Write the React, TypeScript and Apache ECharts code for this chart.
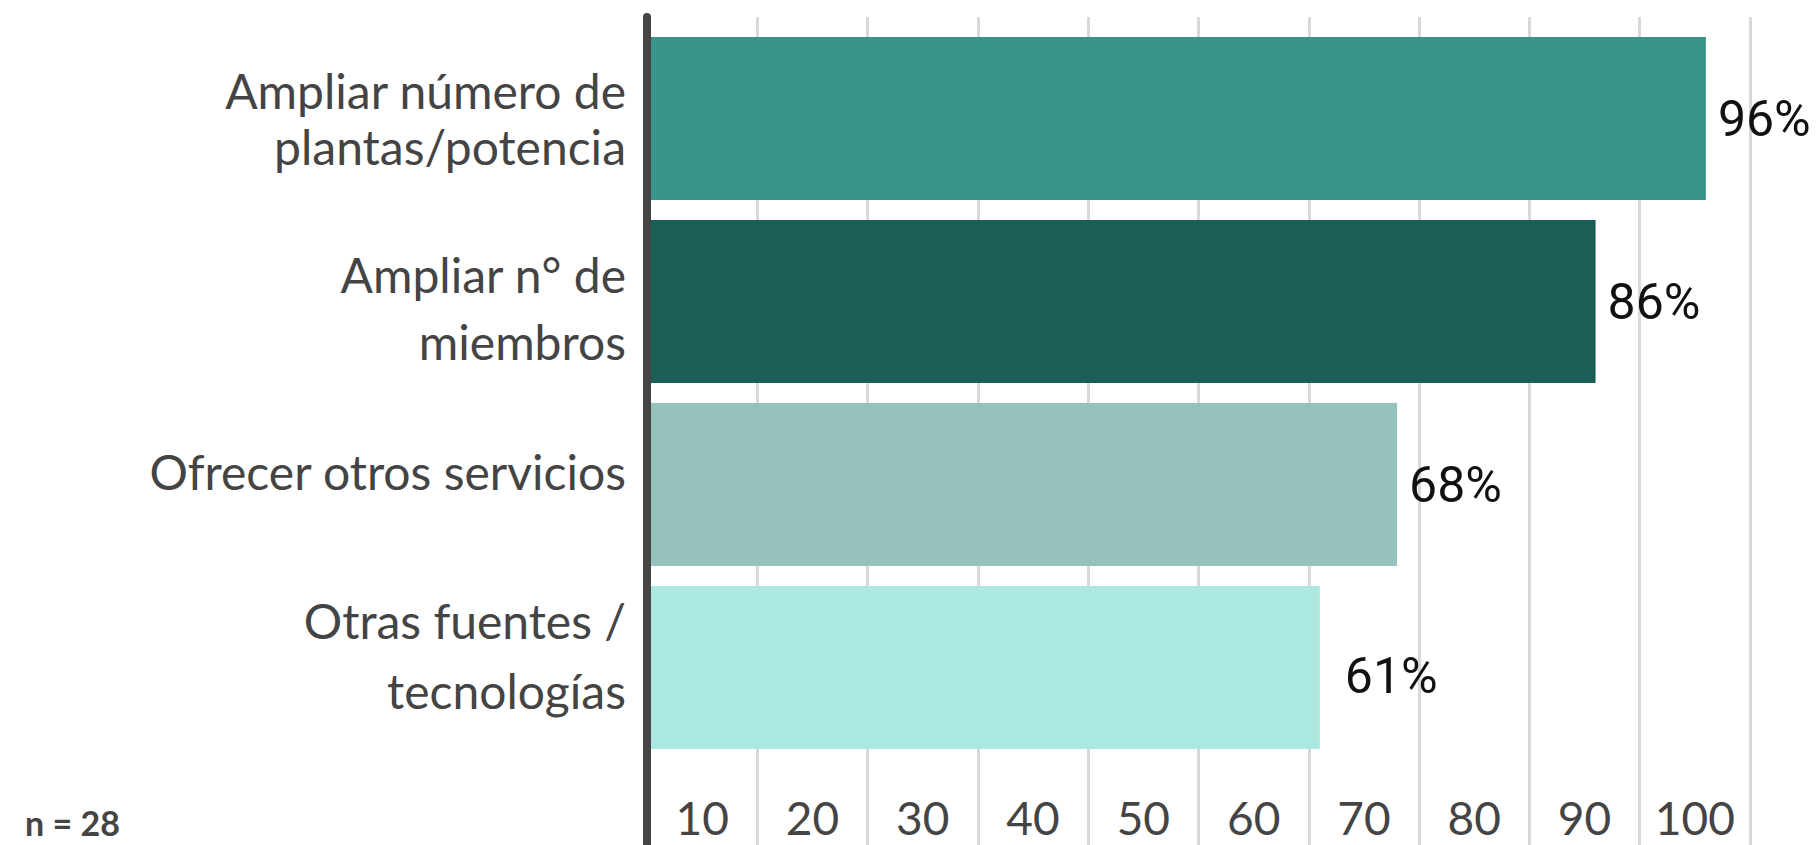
import React, { useEffect, useRef } from "react";
import * as echarts from "echarts";

const categories = [
  "Ampliar número de\nplantas/potencia",
  "Ampliar n° de\nmiembros",
  "Ofrecer otros servicios",
  "Otras fuentes /\ntecnologías",
];
const values = [96, 86, 68, 61];
const barColors = ["#399489", "#1a5e57", "#96c2bc", "#aae8e0"];
const tickLabels = ["10", "20", "30", "40", "50", "60", "70", "80", "90", "100"];
const note = "n = 28";

// per-category label line spacing and spacer lines (top, bottom) as in the reference
const catLineHeights = [56, 67, 60, 70];
const catSpacerTop = [0, 12, 0, 0];
const catSpacerBottom = [0, 0, 26, 24];

export default function App() {
  const ref = useRef<HTMLDivElement>(null);
  useEffect(() => {
    if (!ref.current) return;
    const chart = echarts.init(ref.current, undefined, { renderer: "svg" });
    const labelFont = "Lato, 'Open Sans', sans-serif";
    const rich: Record<string, any> = {};
    categories.forEach((_, i) => {
      rich["L" + i] = { lineHeight: catLineHeights[i] };
      rich["T" + i] = { lineHeight: catSpacerTop[i], fontSize: 1 };
      rich["B" + i] = { lineHeight: catSpacerBottom[i], fontSize: 1 };
    });
    chart.setOption({
      animation: false,
      backgroundColor: "#ffffff",
      grid: [
        { left: 647, right: 68, top: 17, bottom: 0 },
        { left: 647, right: 68, top: 27, height: 732 },
      ],
      xAxis: [
        {
          gridIndex: 0,
          type: "value",
          min: 0,
          max: 100,
          interval: 10,
          axisLine: { show: false },
          axisTick: { show: false },
          axisLabel: { show: false },
          splitLine: { show: true, lineStyle: { color: "#d9d9d9", width: 3 } },
        },
        {
          gridIndex: 1,
          type: "value",
          min: 0,
          max: 100,
          show: false,
        },
        {
          gridIndex: 0,
          type: "category",
          data: tickLabels,
          position: "bottom",
          axisLine: { show: false },
          axisTick: { show: false },
          splitLine: { show: false },
          axisLabel: {
            inside: true,
            margin: 28,
            verticalAlign: "middle",
            fontSize: 46,
            fontFamily: labelFont,
            color: "#444444",
          },
        },
      ],
      yAxis: [
        {
          gridIndex: 0,
          type: "value",
          min: 0,
          max: 1,
          z: 5,
          axisLine: { show: true, lineStyle: { color: "#444444", width: 8 } },
          axisTick: { show: false },
          axisLabel: { show: false },
          splitLine: { show: false },
        },
        {
          gridIndex: 1,
          type: "category",
          inverse: true,
          data: categories,
          axisLine: { show: false },
          axisTick: { show: false },
          splitLine: { show: false },
          axisLabel: {
            margin: 21,
            fontSize: 48,
            fontFamily: labelFont,
            color: "#444444",
            formatter: (value: string, idx: number) => {
              const lines = value.split("\n").map((l) => `{L${idx}|${l}}`);
              if (catSpacerTop[idx] > 0) lines.unshift(`{T${idx}| }`);
              if (catSpacerBottom[idx] > 0) lines.push(`{B${idx}| }`);
              return lines.join("\n");
            },
            rich,
          },
        },
      ],
      series: [
        {
          type: "bar",
          xAxisIndex: 1,
          yAxisIndex: 1,
          barCategoryGap: "11%",
          data: values.map((v, i) => ({
            value: v,
            itemStyle: { color: barColors[i] },
            label: i === 3 ? { offset: [13, 8] } : undefined,
          })),
          label: {
            show: true,
            position: "right",
            distance: 12,
            formatter: "{c}%",
            fontSize: 50,
            fontFamily: "Roboto, sans-serif",
            color: "#111111",
          },
        },
      ],
      graphic: [
        {
          type: "text",
          left: 25,
          top: 805,
          style: {
            text: note,
            fontSize: 34,
            fontWeight: "bold",
            fontFamily: labelFont,
            fill: "#444444",
          },
        },
      ],
    });
    return () => chart.dispose();
  }, []);
  return (
    <div
      ref={ref}
      style={{ position: "fixed", left: 0, top: 0, width: 1818, height: 845 }}
    />
  );
}
